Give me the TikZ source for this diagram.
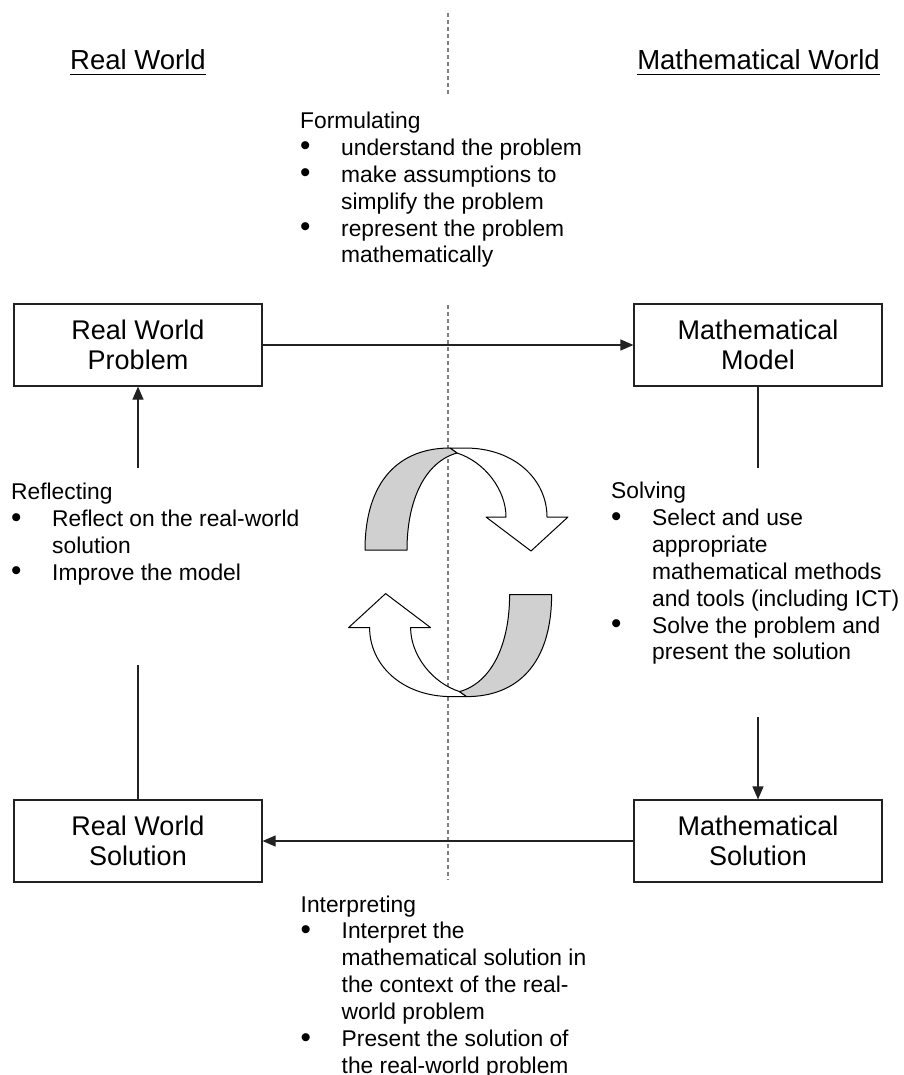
\documentclass[tikz,border=0pt]{standalone}
\usepackage{fontspec}
\usepackage{graphicx}
\setmainfont{Liberation Sans}
\usetikzlibrary{arrows.meta}
\definecolor{lineC}{HTML}{222222}
\definecolor{ribbonC}{HTML}{D0D0D0}
\newcommand\cycribbon{%
  \draw[ribbon, fill=white] (450,448) -- (465,448) .. controls (515,448) and (547,480) .. (547,517)
     -- (568,517) -- (531,551) -- (486,517) -- (506,517)
     .. controls (506,490) and (485,462) .. (457,453) -- cycle;
  \draw[ribbon, fill=ribbonC] (365,550) .. controls (365,480) and (400,448) .. (450,448)
     -- (457,453) .. controls (425,462) and (407,500) .. (407,550) -- cycle;
}
\newcommand\bul{\makebox[41pt][l]{\raisebox{-0.6pt}{\scalebox{1.3}{\textbullet}}}}
\begin{document}
\begin{tikzpicture}[x=1pt,y=-1pt,
  box/.style={draw=lineC, line width=1.2pt, minimum width=248pt, minimum height=82pt,
    inner sep=0pt, align=center, font=\fontsize{27}{30}\selectfont},
  hdr/.style={inner sep=0pt, anchor=base, font=\fontsize{27.5}{30}\selectfont},
  txt/.style={inner sep=0pt, anchor=base west, font=\fontsize{22.8}{26.9}\selectfont},
  conn/.style={draw=lineC, line width=1.2pt},
  arr/.style={-{Triangle[length=13pt,width=11pt]}},
  ribbon/.style={draw=black, line width=1pt, line join=round},
  divider/.style={draw=gray, line width=1.3pt, dash pattern=on 4pt off 3pt}]
\useasboundingbox (0,0) rectangle (903,1075);

% dashed divider
\coordinate (d1) at (448,13);
\coordinate (d2) at (448,95);
\coordinate (d3) at (448,305);
\coordinate (d4) at (448,880);
\draw[divider] (d1) -- (d2);
\draw[divider] (d3) -- (d4);

% headers
\node[hdr] (rw) at (138,70) {Real World};
\node[hdr] (mw) at (758.5,70) {Mathematical World};
\draw[line width=1.8pt] ([yshift=-4.5pt]rw.base west) -- ([yshift=-4.5pt]rw.base east);
\draw[line width=1.8pt] ([yshift=-4.5pt]mw.base west) -- ([yshift=-4.5pt]mw.base east);

% boxes
\node[box] (rwp) at (138,345) {Real World\\Problem};
\node[box] (mm)  at (758,345) {Mathematical\\Model};
\node[box] (rws) at (138,841) {Real World\\Solution};
\node[box] (ms)  at (758,841) {Mathematical\\Solution};

% connectors
\coordinate (mmlow) at (758,468);
\coordinate (mstop) at (758,717);
\coordinate (rwsup) at (138,665);
\coordinate (rwplow) at (138,468);
\draw[conn,arr] (rwp.east) -- (mm.west);
\draw[conn] (mm.south) -- (mmlow);
\draw[conn,arr] (mstop) -- (ms.north);
\draw[conn,arr] (ms.west) -- (rws.east);
\draw[conn] (rws.north) -- (rwsup);
\draw[conn,arr] (rwplow) -- (rwp.south);

% text blocks
\node[txt] (form) at (300,128.5) {\begin{tabular}[t]{@{}l@{}l@{}}
\multicolumn{2}{@{}l@{}}{Formulating}\\
\bul & understand the problem\\
\bul & make assumptions to\\
 & simplify the problem\\
\bul & represent the problem\\
 & mathematically
\end{tabular}};

\node[txt] (refl) at (11,499.5) {\begin{tabular}[t]{@{}l@{}l@{}}
\multicolumn{2}{@{}l@{}}{Reflecting}\\
\bul & Reflect on the real-world\\
 & solution\\
\bul & Improve the model
\end{tabular}};

\node[txt] (solv) at (611,498.5) {\begin{tabular}[t]{@{}l@{}l@{}}
\multicolumn{2}{@{}l@{}}{Solving}\\
\bul & Select and use\\
 & appropriate\\
 & mathematical methods\\
 & and tools (including ICT)\\
\bul & Solve the problem and\\
 & present the solution
\end{tabular}};

\node[txt] (interp) at (300.5,912) {\begin{tabular}[t]{@{}l@{}l@{}}
\multicolumn{2}{@{}l@{}}{Interpreting}\\
\bul & Interpret the\\
 & mathematical solution in\\
 & the context of the real-\\
 & world problem\\
\bul & Present the solution of\\
 & the real-world problem
\end{tabular}};

% cycle arrows
\cycribbon
\begin{scope}[rotate around={180:(458.3,572.3)}]
\cycribbon
\end{scope}
\end{tikzpicture}
\end{document}
